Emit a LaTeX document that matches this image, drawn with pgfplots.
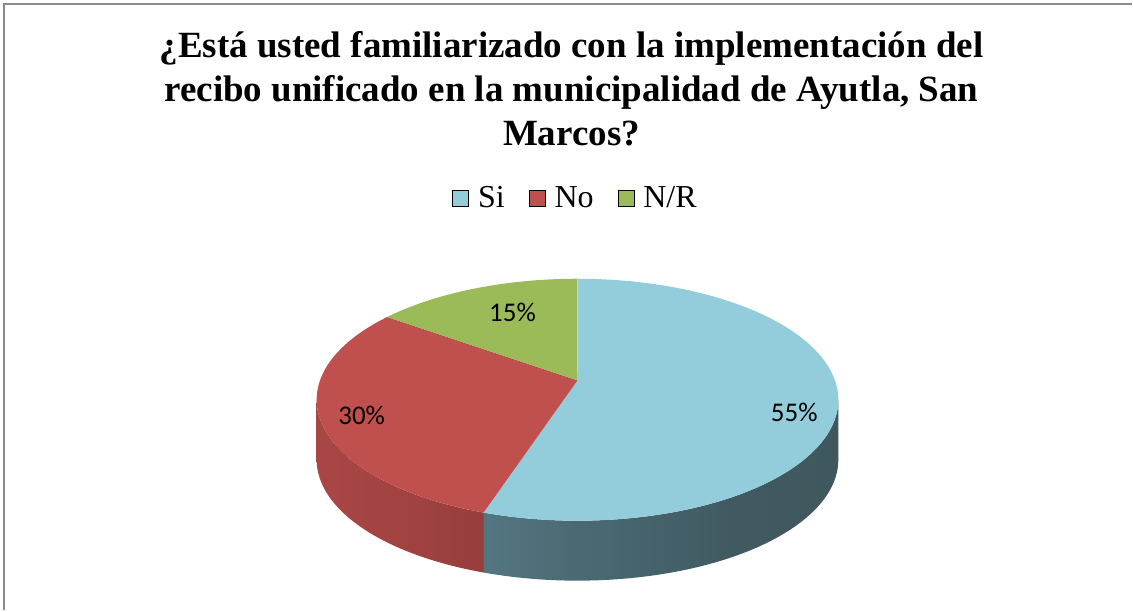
\documentclass[border=0pt]{standalone}
\usepackage{pgfplots}
\pgfplotsset{compat=1.18}
\usepackage{pgfplotstable}
\usepackage{fontspec}
\setmainfont{Liberation Serif}
\newfontfamily\calibri{Carlito}

\definecolor{siTop}{HTML}{93CDDC}
\definecolor{noTop}{HTML}{C0504D}
\definecolor{nrTop}{HTML}{9BBB59}
\definecolor{frame}{HTML}{8C8C8C}
\definecolor{sA}{HTML}{6D949F}
\definecolor{sB}{HTML}{5B808A}
\definecolor{sC}{HTML}{4A6A73}
\definecolor{sD}{HTML}{415A61}
\definecolor{sE}{HTML}{3C5257}
\definecolor{rA}{HTML}{AE4A47}
\definecolor{rB}{HTML}{A24341}
\definecolor{rC}{HTML}{8C3836}
\pgfdeclarehorizontalshading{siside}{100bp}{color(0bp)=(sA); color(15bp)=(sB); color(38bp)=(sC); color(60bp)=(sD); color(100bp)=(sE)}
\pgfdeclarehorizontalshading{noside}{100bp}{color(0bp)=(rA); color(50bp)=(rB); color(100bp)=(rC)}

\pgfplotstableread{
label value
Si 55
No 30
NR 15
}\piedata

\begin{document}
\begin{tikzpicture}
\pgfplotstablegetelem{0}{value}\of\piedata \let\vSi\pgfplotsretval
\pgfplotstablegetelem{1}{value}\of\piedata \let\vNo\pgfplotsretval
\pgfplotstablegetelem{2}{value}\of\piedata \let\vNR\pgfplotsretval
\pgfmathsetmacro\aA{90}
\pgfmathsetmacro\aB{90-3.6*\vSi}
\pgfmathsetmacro\aC{\aB-3.6*\vNo}
\pgfmathsetmacro\aD{\aC-3.6*\vNR}
\pgfmathsetmacro\silR{-asin(0.16)}
\pgfmathsetmacro\silL{-180+asin(0.16)}
\begin{axis}[
  x=0.5pt, y=0.5pt, xmin=0, xmax=1133, ymin=0, ymax=611,
  hide axis, scale only axis, clip=false,
  declare function={
    PX(\t)=578+257.7*cos(\t)/(1+0.16*sin(\t));
    PY(\t)=230.3+118*sin(\t)/(1+0.16*sin(\t));
    TS(\s,\p,\q)=(\s<=1)*(\p+(\q-\p)*\s)+(\s>1)*(\q+(\p-\q)*(\s-1));
  },
  legend columns=3,
  legend style={draw=none, fill=none, at={(axis cs:577,412)}, anchor=center,
    font=\fontsize{16}{19}\selectfont, inner sep=0pt,
    /tikz/every odd column/.append style={column sep=2.5pt},
    /tikz/every even column/.append style={column sep=10pt}},
  legend image code/.code={\fill[#1] (0pt,-4pt) rectangle (8pt,4pt);},
]
\path (axis cs:0,0) rectangle (axis cs:1133,611);
% side faces
\addplot[forget plot, draw=none, shading=siside, variable=\s,
  samples at={0,0.02,...,0.99,1,1.00001,1.02001,...,1.99,2}]
  ({PX(TS(\s,\aB,\silR))},{PY(TS(\s,\aB,\silR))-60*(\s>1)}) -- cycle;
\addplot[forget plot, draw=none, shading=noside, variable=\s,
  samples at={0,0.02,...,0.99,1,1.00001,1.02001,...,1.99,2}]
  ({PX(TS(\s,\silL,\aB))},{PY(TS(\s,\silL,\aB))-60*(\s>1)}) -- cycle;
% top faces
\addplot[forget plot, fill=siTop, draw=none, variable=\t, domain=\aB:\aA, samples=120]
  ({PX(\t)},{PY(\t)}) -- (axis cs:578,230.3) -- cycle;
\addplot[forget plot, fill=noTop, draw=none, variable=\t, domain=\aC:\aB, samples=80]
  ({PX(\t)},{PY(\t)}) -- (axis cs:578,230.3) -- cycle;
\addplot[forget plot, fill=nrTop, draw=none, variable=\t, domain=\aD:\aC, samples=60]
  ({PX(\t)},{PY(\t)}) -- (axis cs:578,230.3) -- cycle;
\addlegendimage{fill=siTop}\addlegendentry{Si}
\addlegendimage{fill=noTop}\addlegendentry{No}
\addlegendimage{fill=nrTop}\addlegendentry{N/R}
% data labels
\node[font=\calibri\fontsize{13.5}{16}\selectfont] at (axis cs:513,298) {15\%};
\node[font=\calibri\fontsize{13.5}{16}\selectfont] at (axis cs:362,195) {30\%};
\node[font=\calibri\fontsize{13.5}{16}\selectfont] at (axis cs:795,198) {55\%};
% title
\node[anchor=base, font=\bfseries\fontsize{18.5}{22}\selectfont] at (axis cs:572,553) {¿Está usted familiarizado con la implementación del};
\node[anchor=base, font=\bfseries\fontsize{18.5}{22}\selectfont] at (axis cs:572,509) {recibo unificado en la municipalidad de Ayutla, San};
\node[anchor=base, font=\bfseries\fontsize{18.5}{22}\selectfont] at (axis cs:572,465) {Marcos?};
% frame
\draw[frame, line width=1pt] (axis cs:4.5,0) -- (axis cs:4.5,606.5) -- (axis cs:1133,606.5);
\end{axis}
\end{tikzpicture}
\end{document}
